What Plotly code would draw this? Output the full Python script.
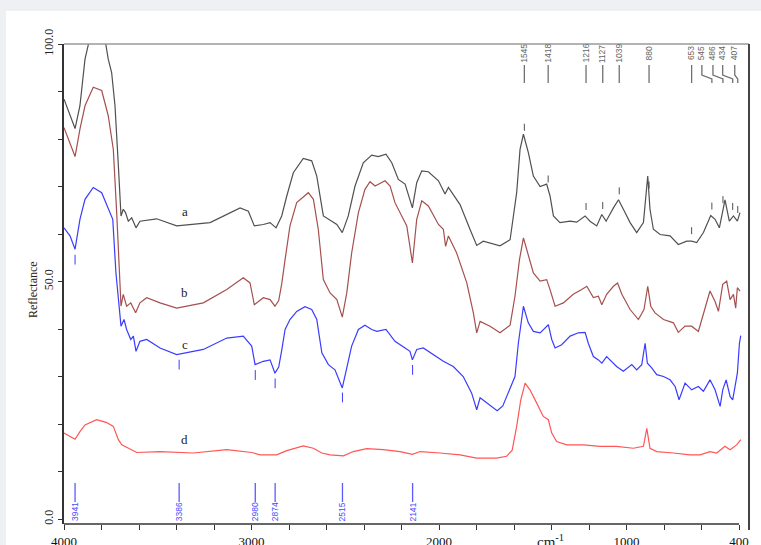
import numpy as np
import plotly.graph_objects as go

# ---------------- data (wavenumber cm-1, reflectance) ----------------
curve_a = [(4000, 88.4), (3968, 84.9), (3941, 82.2), (3915, 87), (3888, 96.8), (3852, 103),
           (3820, 103.5), (3790, 103), (3764, 96.8), (3746, 94), (3728, 87), (3710, 74.3),
           (3696, 63.8), (3684, 65.2), (3672, 64.5), (3657, 62.7), (3639, 63.4), (3616, 61.3),
           (3595, 62.7), (3506, 63.2), (3399, 61.7), (3221, 62.4), (3061, 65.5), (3017, 64.8),
           (2985, 61.7), (2937, 62), (2901, 62.4), (2869, 61.3), (2839, 63.8), (2812, 68),
           (2777, 72.9), (2724, 75.9), (2679, 75.4), (2652, 72.2), (2617, 63.8), (2572, 62.7),
           (2545, 62), (2516, 60.3), (2484, 63.8), (2448, 70.1), (2404, 75), (2359, 76.6),
           (2324, 76.3), (2283, 76.8), (2252, 75), (2217, 71.5), (2181, 70.5), (2142, 65.5),
           (2119, 70.8), (2092, 73.3), (2057, 73.1), (2003, 71.2), (1968, 68.4), (1950, 69.8),
           (1888, 66.2), (1835, 61), (1799, 57.6), (1764, 58.5), (1675, 57.5), (1621, 58.8),
           (1586, 68.7), (1568, 77.8), (1550, 81), (1524, 77.2), (1497, 72.2), (1461, 70),
           (1426, 70.5), (1408, 68), (1390, 63.8), (1355, 62.4), (1301, 62.7), (1266, 62.5),
           (1221, 63.8), (1195, 62.7), (1159, 61.7), (1132, 64.1), (1109, 62.7), (1070, 65.5),
           (1043, 67.2), (1017, 65.2), (981, 62.4), (946, 60.3), (910, 62.4), (887, 72.2),
           (875, 65.2), (857, 61), (821, 59.9), (768, 59.6), (724, 57.8), (679, 58.5),
           (653, 58.5), (626, 58.2), (590, 60.3), (551, 63.9), (528, 63.1), (505, 61.3),
           (475, 67.2), (452, 62.7), (430, 63.8), (409, 62.7), (395, 64.5)]

curve_b = [(4000, 82.4), (3968, 79.3), (3941, 76.3), (3915, 82.1), (3888, 87), (3844, 90.9),
           (3799, 90.2), (3764, 84.9), (3737, 77.8), (3719, 64.5), (3705, 51.8), (3696, 44.8),
           (3684, 47.3), (3666, 44.8), (3644, 45.5), (3618, 43.4), (3595, 45.5), (3559, 46.6),
           (3488, 45.5), (3399, 44.4), (3257, 45.5), (3132, 48.3), (3044, 50.8), (3008, 49.7),
           (2985, 45.1), (2937, 46.6), (2901, 46.2), (2875, 44.8), (2855, 46), (2839, 49.5),
           (2821, 54.6), (2795, 61.7), (2759, 66.6), (2697, 68.7), (2670, 67.3), (2644, 61),
           (2617, 50.4), (2581, 47.6), (2545, 46.2), (2516, 42.5), (2492, 47.6), (2466, 56),
           (2430, 64.5), (2395, 69.4), (2368, 71), (2341, 70.1), (2288, 71.2), (2261, 70.1),
           (2235, 66.6), (2199, 63.8), (2172, 61.7), (2142, 53.9), (2119, 63.1), (2092, 67),
           (2057, 65.9), (2003, 62), (1977, 61), (1965, 57.4), (1950, 59.6), (1906, 56),
           (1852, 49.7), (1817, 43.4), (1799, 39.2), (1781, 41.6), (1728, 40.6), (1675, 39.2),
           (1621, 40.8), (1595, 46.9), (1571, 54.6), (1550, 59.2), (1524, 55.3), (1497, 51.8),
           (1461, 50.1), (1426, 50.4), (1408, 48.3), (1381, 44.8), (1337, 45.5), (1284, 47.3),
           (1239, 48.3), (1212, 49), (1177, 46.6), (1150, 46.9), (1132, 45.1), (1106, 47.3),
           (1070, 49), (1048, 49.7), (1025, 47.3), (981, 44.1), (937, 42), (907, 44.1),
           (887, 49), (871, 44.8), (848, 43.4), (803, 42), (750, 41.3), (724, 39.3),
           (688, 40.6), (653, 40.6), (617, 39.5), (590, 43.4), (555, 48), (528, 45.8),
           (510, 43.7), (487, 49.4), (466, 50.1), (448, 46.2), (430, 47.3), (418, 44.4),
           (409, 48.7), (395, 48)]

curve_c = [(4000, 61.3), (3968, 59.6), (3941, 56.8), (3915, 63.1), (3888, 67.3), (3844, 69.8),
           (3799, 68.7), (3764, 65.5), (3740, 63.1), (3723, 51.8), (3705, 44.8), (3696, 40.6),
           (3680, 42), (3666, 39.9), (3644, 37.8), (3630, 38.5), (3616, 35.3), (3595, 37.4),
           (3559, 37.8), (3488, 36), (3399, 34.6), (3257, 35.7), (3132, 38.1), (3044, 38.5),
           (2999, 36.4), (2981, 32.5), (2937, 33.2), (2901, 33.5), (2875, 30.7), (2855, 32),
           (2839, 35.5), (2821, 39.9), (2795, 42), (2759, 43.7), (2715, 44.7), (2679, 44.1),
           (2652, 42), (2625, 35), (2590, 32.5), (2555, 31.4), (2516, 27.6), (2492, 32.1),
           (2466, 36.4), (2430, 39.9), (2395, 40.8), (2359, 39.9), (2332, 39.5), (2283, 39.9),
           (2235, 37.4), (2181, 36), (2155, 35.3), (2142, 33.5), (2119, 35.7), (2084, 36),
           (2030, 34.6), (1977, 33.2), (1924, 32.1), (1871, 30), (1826, 26.5), (1799, 23),
           (1781, 25.5), (1746, 24.4), (1690, 22.8), (1660, 23.8), (1630, 26.5), (1595, 30),
           (1577, 37), (1550, 44.8), (1524, 41.3), (1497, 39.5), (1461, 39.2), (1417, 40.9),
           (1399, 37.8), (1381, 36), (1346, 36.7), (1301, 38.5), (1257, 39.2), (1221, 39.3),
           (1204, 37), (1177, 34.2), (1150, 33.5), (1132, 32.8), (1106, 34.2), (1079, 33.2),
           (1053, 32.1), (1017, 31.1), (972, 32.5), (946, 31.4), (919, 32.5), (901, 37),
           (889, 32.8), (866, 31.8), (839, 30.4), (803, 30), (768, 29.3), (741, 27.9),
           (720, 25.1), (688, 28.6), (653, 27.2), (617, 27.9), (590, 26.9), (555, 29.3),
           (528, 27.2), (501, 23.7), (487, 27.2), (469, 29.3), (448, 25.8), (434, 25.1),
           (421, 27.9), (409, 30.7), (398, 37), (391, 38.6)]

curve_d = [(4000, 18.1), (3968, 17.4), (3941, 16.8), (3915, 18.4), (3888, 19.8), (3826, 20.9),
           (3772, 20.3), (3737, 19.5), (3710, 16.7), (3692, 15.6), (3612, 14), (3488, 14.2),
           (3310, 13.9), (3132, 14.6), (2999, 14), (2955, 13.5), (2866, 13.5), (2812, 14.4),
           (2724, 15.4), (2670, 14.9), (2625, 13.9), (2581, 13.5), (2510, 13.3), (2457, 14.2),
           (2386, 14.8), (2297, 14.6), (2208, 14.2), (2142, 13.6), (2101, 14.2), (1995, 13.9),
           (1888, 13.5), (1799, 12.8), (1693, 12.8), (1640, 13.2), (1610, 14.5), (1586, 19.5),
           (1564, 25.1), (1541, 28.6), (1515, 27.2), (1479, 24.4), (1444, 21.6), (1417, 20.9),
           (1399, 18.1), (1373, 16.3), (1319, 15.6), (1230, 15.6), (1141, 15.3), (1053, 15.3),
           (964, 14.9), (910, 15.3), (892, 19.1), (875, 14.9), (839, 14.2), (750, 13.9),
           (661, 13.5), (608, 13.5), (555, 14.2), (519, 13.9), (475, 15.3), (448, 14.6),
           (413, 15.6), (391, 16.7)]

series_names = ["a", "b", "c", "d"]
series_label_pos = {"a": (3355, 64.8), "b": (3355, 47.7), "c": (3355, 36.7), "d": (3355, 16.7)}

top_peaks = [1545, 1418, 1216, 1127, 1039, 880, 653, 545, 486, 434, 407]
bottom_peaks = [3941, 3386, 2980, 2874, 2515, 2141]

x_tick_vals = list(range(4000, 399, -200))
x_tick_named = {4000: "4000", 3000: "3000", 2000: "2000", 1000: "1000", 400: "400"}
y_tick_vals = list(range(0, 101, 10))
y_tick_named = {0: "0.0", 50: "50.0", 100: "100.0"}

# ---------------- layout geometry / styles ----------------
W, H = 761, 545
ML, MR, MT, MB = 64, 12, 44, 21
XR = [4000, 347]
YR = [-1.05, 100]
PLOT_W = W - ML - MR
PLOT_H = H - MT - MB
PX_PER_UNIT = PLOT_W / (XR[0] - XR[1])

colors = {"a": "#505050", "b": "#a5504e", "c": "#3b3bff", "d": "#ff5656"}
SERIF = "Liberation Serif"
SANS = "Liberation Sans"


def py2paper(py):
    return (H - MB - py) / PLOT_H


def px2paper(px):
    return (px - ML) / PLOT_W


curves = {"a": curve_a, "b": curve_b, "c": curve_c, "d": curve_d}

fig = go.Figure()
for name in series_names:
    xs, ys = zip(*curves[name])
    fig.add_trace(go.Scatter(x=xs, y=ys, mode="lines", name=name,
                             line=dict(color=colors[name], width=1.2),
                             hoverinfo="skip", showlegend=False))

# small peak marks on curve a (above) and curve c (below)
ax_, ay_ = zip(*curve_a)
ax_arr, ay_arr = np.array(ax_[::-1]), np.array(ay_[::-1])
pa = np.array(top_peaks, dtype=float)
fig.add_trace(go.Scatter(x=pa, y=np.interp(pa, ax_arr, ay_arr) + 2.2, mode="markers",
                         marker=dict(symbol="line-ns", size=5, line=dict(width=1, color=colors["a"])),
                         hoverinfo="skip", showlegend=False))
cx_, cy_ = zip(*curve_c)
cx_arr, cy_arr = np.array(cx_[::-1]), np.array(cy_[::-1])
pc = np.array(bottom_peaks, dtype=float)
fig.add_trace(go.Scatter(x=pc, y=np.interp(pc, cx_arr, cy_arr) - 2.2, mode="markers",
                         marker=dict(symbol="line-ns", size=7, line=dict(width=1, color=colors["c"])),
                         hoverinfo="skip", showlegend=False))

shapes = []
annotations = []

# page background (light grey frame) and white panel
shapes.append(dict(type="rect", xref="paper", yref="paper", layer="below",
                   x0=px2paper(6), x1=px2paper(W + 5), y0=py2paper(H + 5), y1=py2paper(11),
                   fillcolor="white", line=dict(width=0)))
# frame lines
shapes.append(dict(type="line", xref="paper", yref="paper", x0=0, x1=1, y0=1, y1=1,
                   line=dict(color="#9a9a9a", width=1.5)))
shapes.append(dict(type="line", xref="paper", yref="paper", x0=1, x1=1, y0=py2paper(530), y1=1,
                   line=dict(color="#444444", width=2)))
shapes.append(dict(type="line", xref="x", yref="paper", x0=XR[0], x1=400, y0=0, y1=0,
                   line=dict(color="#333333", width=1.5)))

# top peak labels (grey)
label_shift_px = {545: -10, 486: -10, 434: -10, 407: -3}
y_top_line0, y_bend0, y_bend1, y_top_line1 = py2paper(65), py2paper(75), py2paper(79), py2paper(83)
for p in top_peaks:
    sh = label_shift_px.get(p, 0)
    xt = p - sh / PX_PER_UNIT
    if sh:
        path = f"M {xt},{y_top_line0} L {xt},{y_bend0} L {p},{y_bend1} L {p},{y_top_line1}"
        shapes.append(dict(type="path", xref="x", yref="paper", path=path,
                           line=dict(color="#707070", width=1.3)))
    else:
        shapes.append(dict(type="line", xref="x", yref="paper", x0=p, x1=p,
                           y0=y_top_line0, y1=y_top_line1, line=dict(color="#707070", width=1.3)))
    annotations.append(dict(x=xt, y=py2paper(53.5), xref="x", yref="paper", text=str(p),
                            showarrow=False, textangle=-90, xanchor="center", yanchor="middle",
                            font=dict(family=SANS, size=8.5, color="#666666")))

# bottom peak labels (blue)
for p in bottom_peaks:
    shapes.append(dict(type="line", xref="x", yref="paper", x0=p, x1=p,
                       y0=py2paper(483), y1=py2paper(502), line=dict(color="#5a5aff", width=1.3)))
    annotations.append(dict(x=p, y=py2paper(512), xref="x", yref="paper", text=str(p),
                            showarrow=False, textangle=-90, xanchor="center", yanchor="middle",
                            font=dict(family=SANS, size=8.5, color="#4a4aff")))

# series letters
for name in series_names:
    lx, ly = series_label_pos[name]
    annotations.append(dict(x=lx, y=ly, xref="x", yref="y", text=name, showarrow=False,
                            font=dict(family=SERIF, size=13, color="#222222")))

# axis titles
annotations.append(dict(x=px2paper(33), y=py2paper(290), xref="paper", yref="paper",
                        text="Reflectance", textangle=-90, showarrow=False,
                        xanchor="center", yanchor="middle",
                        font=dict(family=SERIF, size=12, color="#222222")))
annotations.append(dict(x=px2paper(550), y=py2paper(541), xref="paper", yref="paper",
                        text="cm<sup>-1</sup>", showarrow=False,
                        xanchor="center", yanchor="middle",
                        font=dict(family=SERIF, size=15, color="#222222")))

fig.update_layout(
    width=W, height=H,
    margin=dict(l=ML, r=MR, t=MT, b=MB, pad=0, autoexpand=False),
    paper_bgcolor="#eef0f3", plot_bgcolor="white",
    shapes=shapes, annotations=annotations,
    xaxis=dict(range=XR, tickmode="array", tickvals=x_tick_vals,
               ticktext=[x_tick_named.get(v, "") for v in x_tick_vals],
               ticks="outside", ticklen=5, tickcolor="#333333", tickwidth=1,
               showline=False, showgrid=False, zeroline=False, automargin=False,
               tickfont=dict(family=SERIF, size=13, color="#111111")),
    yaxis=dict(range=YR, tickmode="array", tickvals=y_tick_vals,
               ticktext=[y_tick_named.get(v, "") for v in y_tick_vals],
               tickangle=-90, ticks="outside", ticklen=4, tickcolor="#333333",
               showline=True, linecolor="#333333", linewidth=1.5,
               showgrid=False, zeroline=False, automargin=False,
               tickfont=dict(family=SERIF, size=12, color="#222222")),
)

fig.write_html("out.html", config={"displayModeBar": False},
               post_script="document.body.style.margin='0';document.body.style.overflow='hidden';")
